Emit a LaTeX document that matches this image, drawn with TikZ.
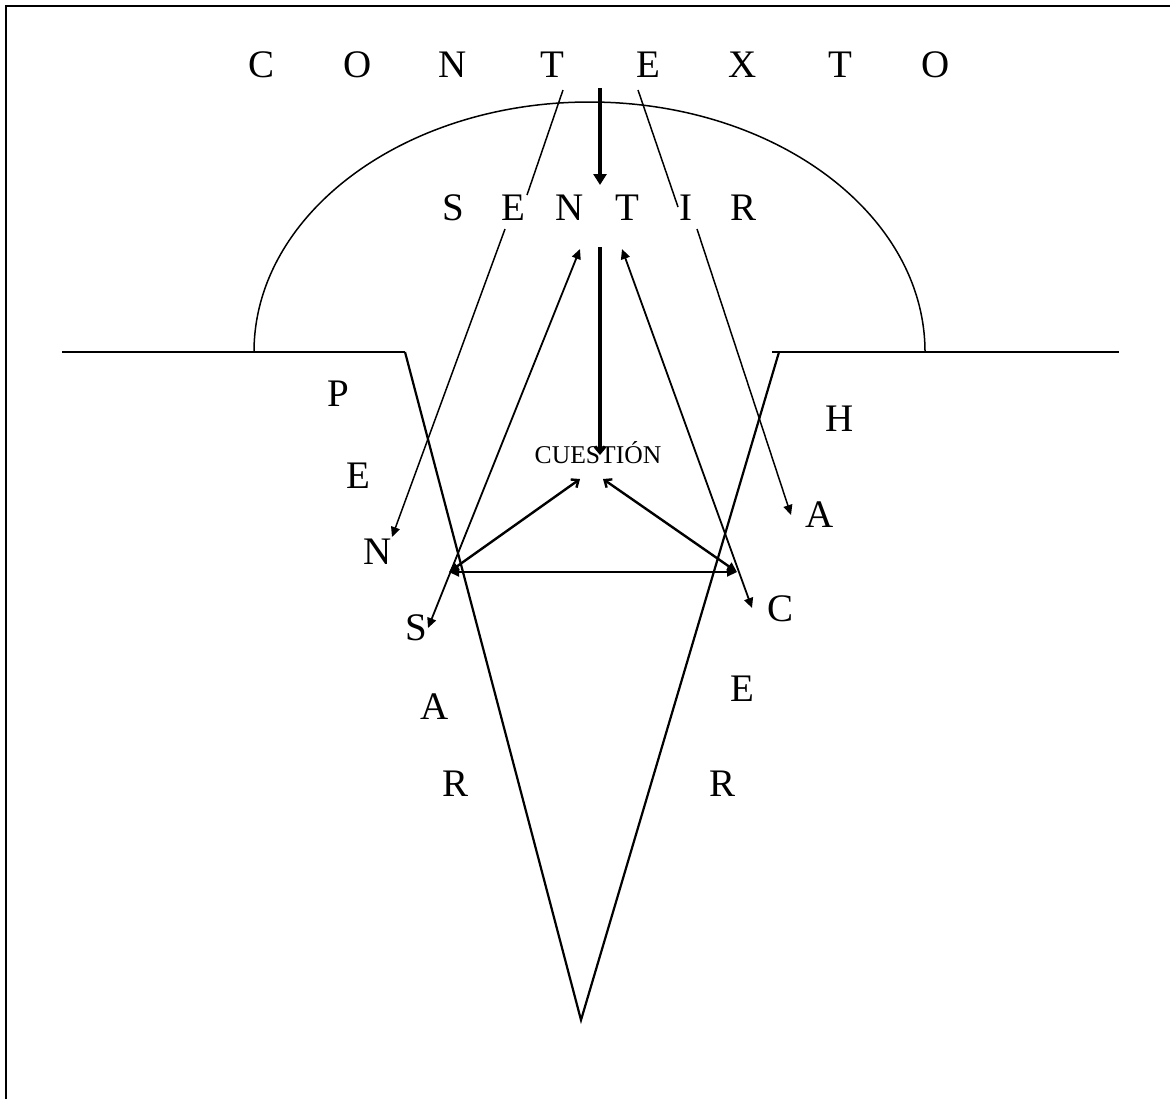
\documentclass[tikz,border=0pt]{standalone}
\usepackage{fontspec}
\setmainfont{Liberation Serif}
\usepackage{tikz}
\usetikzlibrary{arrows.meta}
\tikzset{
  >={Triangle[length=5pt,width=4.5pt]},
  letra/.style={font=\fontsize{19.5}{22}\selectfont,inner sep=0pt,anchor=base},
  cuest/.style={font=\fontsize{12.8}{15}\selectfont,inner sep=0pt,anchor=base},
  marco/.style={line width=1pt},
  suelo/.style={line width=1pt},
  linea/.style={line width=0.75pt},
  flecha/.style={->,line width=0.75pt},
  dflecha/.style={<->,line width=0.9pt},
  gruesa/.style={-{Triangle[length=5.5pt,width=6.5pt]},line width=2pt},
  barba/.style={-{Straight Barb[length=3pt,width=5pt]},line width=1.2pt},
  lado/.style={line width=1.1pt},
}
\begin{document}
\begin{tikzpicture}[x=0.5pt,y=-0.5pt]
  \useasboundingbox (0,0) rectangle (1170,1099);
  \draw[marco] (6,1099) -- (6,6) -- (1170,6);
  % contexto
  \node[letra] (ctC) at (262,77) {C};
  \node[letra] (ctO) at (358,77) {O};
  \node[letra] (ctN) at (453,77) {N};
  \node[letra] (ctT) at (552,77) {T};
  \node[letra] (ctE) at (648,77) {E};
  \node[letra] (ctX) at (743,77) {X};
  \node[letra] (ctTb) at (840,77) {T};
  \node[letra] (ctOb) at (936,77) {O};
  % sentir
  \node[letra] (snS) at (453,220) {S};
  \node[letra] (snE) at (513,220) {E};
  \node[letra] (snN) at (570,220) {N};
  \node[letra] (snT) at (627,220) {T};
  \node[letra] (snI) at (686,220) {I};
  \node[letra] (snR) at (743,220) {R};
  % pensar
  \node[letra] (pP) at (338,406) {P};
  \node[letra] (pE) at (358,488) {E};
  \node[letra] (pN) at (378,564) {N};
  \node[letra] (pS) at (416,640) {S};
  \node[letra] (pA) at (435,719) {A};
  \node[letra] (pR) at (455,796) {R};
  % hacer
  \node[letra] (hH) at (840,431) {H};
  \node[letra] (hA) at (820,527) {A};
  \node[letra] (hC) at (780,621) {C};
  \node[letra] (hE) at (742,701) {E};
  \node[letra] (hR) at (722,796) {R};
  \node[cuest] (cues) at (598,463) {CUESTIÓN};

  % puntos
  \coordinate (ctFl) at (600,88);
  \coordinate (snFl) at (600,185);
  \coordinate (snBj) at (600,247);
  \coordinate (cuTop) at (600,455);
  \coordinate (izA) at (563,90);
  \coordinate (izB) at (527,195);
  \coordinate (izC) at (505,229);
  \coordinate (izD) at (392,537);
  \coordinate (deA) at (638,90);
  \coordinate (deB) at (678,207);
  \coordinate (deC) at (697,229);
  \coordinate (deD) at (791,515);
  \coordinate (pSp) at (428,628);
  \coordinate (snNp) at (580,249);
  \coordinate (snTp) at (622,249);
  \coordinate (hCp) at (752,608);
  \coordinate (vL) at (449,572);
  \coordinate (vR) at (737,572);
  \coordinate (cuL) at (580,479);
  \coordinate (cuR) at (603,479);
  \coordinate (conoL) at (405,352);
  \coordinate (conoR) at (779,352);
  \coordinate (pico) at (581,1020);

  % suelo, bóveda y cono
  \draw[suelo] (62,352) -- (conoL);
  \draw[suelo] (772,352) -- (1119,352);
  \draw[linea] (254,352) arc[start angle=180,end angle=0,x radius=167.75pt,y radius=125pt];
  \draw[lado] (conoL) -- (pico) -- (conoR);

  % flechas
  \draw[gruesa] (ctFl) -- (snFl);
  \draw[line width=1.6pt,-{Straight Barb[length=3pt,width=5pt]}] (snBj) -- (cuTop);
  \draw[linea] (izA) -- (izB);
  \draw[flecha] (izC) -- (izD);
  \draw[linea] (deA) -- (deB);
  \draw[flecha] (deC) -- (deD);
  \draw[dflecha] (pSp) -- (snNp);
  \draw[dflecha] (snTp) -- (hCp);
  \draw[dflecha] (vL) -- (vR);
  \draw[line width=1.2pt,{Triangle[length=5pt,width=4.5pt]}-{Straight Barb[length=3pt,width=5pt]}] (vL) -- (cuL);
  \draw[line width=1.2pt,{Straight Barb[length=3pt,width=5pt]}-{Triangle[length=5pt,width=4.5pt]}] (cuR) -- (vR);
\end{tikzpicture}
\end{document}
